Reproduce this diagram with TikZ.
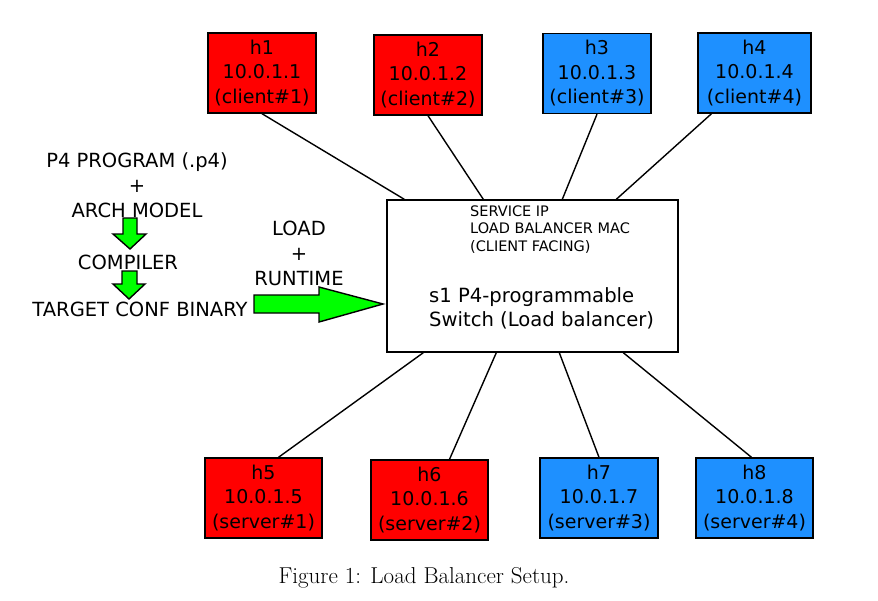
\documentclass[tikz,border=0pt]{standalone}
\usepackage{fontspec}
\usepackage{xcolor}
\usepackage{tikz}
\newfontfamily\djvsans{DejaVu Sans}
\definecolor{lbred}{HTML}{FF0000}
\definecolor{lbblue}{HTML}{1E90FF}
\definecolor{lbgreen}{HTML}{00FF00}

\tikzset{
  hostbox/.style={draw=black,line width=1.4pt,minimum height=80pt,inner sep=1pt,
    align=center,font=\djvsans\fontsize{19}{24.5}\selectfont},
  client/.style={hostbox,minimum width=108pt},
  server/.style={hostbox,minimum width=117pt},
  bigtext/.style={align=center,inner sep=0pt,font=\djvsans\fontsize{19.5}{25}\selectfont},
  smalltext/.style={align=left,inner sep=0pt,font=\djvsans\fontsize{14.5}{17.5}\selectfont},
  link/.style={line width=1.4pt},
  greenarrow/.style={fill=lbgreen,draw=black,line width=1.4pt,line join=miter}
}

\begin{document}
\begin{tikzpicture}[x=1pt,y=-1pt]
  \useasboundingbox (0,0) rectangle (878,600);

  % clients
  \node[client,fill=lbred]  (h1) at (262,73)   {h1\\10.0.1.1\\(client\#1)};
  \node[client,fill=lbred]  (h2) at (428,75)   {h2\\10.0.1.2\\(client\#2)};
  \node[client,fill=lbblue] (h3) at (597,73.5) {h3\\10.0.1.3\\(client\#3)};
  \node[client,fill=lbblue,minimum width=113pt] (h4) at (754.5,73) {h4\\10.0.1.4\\(client\#4)};

  % servers
  \node[server,fill=lbred]  (h5) at (263.5,498) {h5\\10.0.1.5\\(server\#1)};
  \node[server,fill=lbred]  (h6) at (429.5,500) {h6\\10.0.1.6\\(server\#2)};
  \node[server,fill=lbblue,minimum width=118pt] (h7) at (599,498) {h7\\10.0.1.7\\(server\#3)};
  \node[server,fill=lbblue] (h8) at (754.5,498) {h8\\10.0.1.8\\(server\#4)};

  % switch
  \node[draw=black,line width=1.4pt,minimum width=291pt,minimum height=152pt] (s1) at (532.5,276) {};
  \node[smalltext,anchor=west] (svc) at (470,229.5) {SERVICE IP\\LOAD BALANCER MAC\\(CLIENT FACING)};
  \node[bigtext,align=left,anchor=west,font=\djvsans\fontsize{19.6}{24}\selectfont] (s1txt) at (429,308)
    {s1 P4-programmable\\Switch (Load balancer)};

  % links
  \draw[link] (h1.south) -- ([xshift=18pt]s1.north west);
  \draw[link] (h2.south) -- ([xshift=97pt]s1.north west);
  \draw[link] (h3.south) -- ([xshift=176pt]s1.north west);
  \draw[link] ([xshift=-43pt]h4.south) -- ([xshift=230pt]s1.north west);
  \draw[link] ([xshift=37pt]s1.south west) -- ([xshift=15pt]h5.north);
  \draw[link] ([xshift=110pt]s1.south west) -- ([xshift=20pt]h6.north);
  \draw[link] ([xshift=173pt]s1.south west) -- (h7.north);
  \draw[link] ([xshift=237pt]s1.south west) -- ([xshift=-3pt]h8.north);

  % compile flow
  \node[bigtext] (prog) at (137,185) {P4 PROGRAM (.p4)\\+\\ARCH MODEL};
  \node[bigtext] (comp) at (128,262) {COMPILER};
  \node[bigtext] (bin) at (140,309) {TARGET CONF BINARY};
  \node[bigtext] (load) at (299,253) {LOAD\\+\\RUNTIME};
  \filldraw[greenarrow] (123,218) -- (137,218) -- (137,234) -- (146,234) -- (130,249)
    -- (113,234) -- (123,234) -- cycle;
  \filldraw[greenarrow] (122,271) -- (137,271) -- (137,284) -- (145,284) -- (129,299)
    -- (113,284) -- (122,284) -- cycle;
  \filldraw[greenarrow] (254,295) -- (319,295) -- (319,287) -- (383,304) -- (319,322)
    -- (319,313) -- (254,313) -- cycle;

  % caption
  \node[font=\fontsize{23}{27}\selectfont] (cap) at (424,578) {Figure 1: Load Balancer Setup.};
\end{tikzpicture}
\end{document}
